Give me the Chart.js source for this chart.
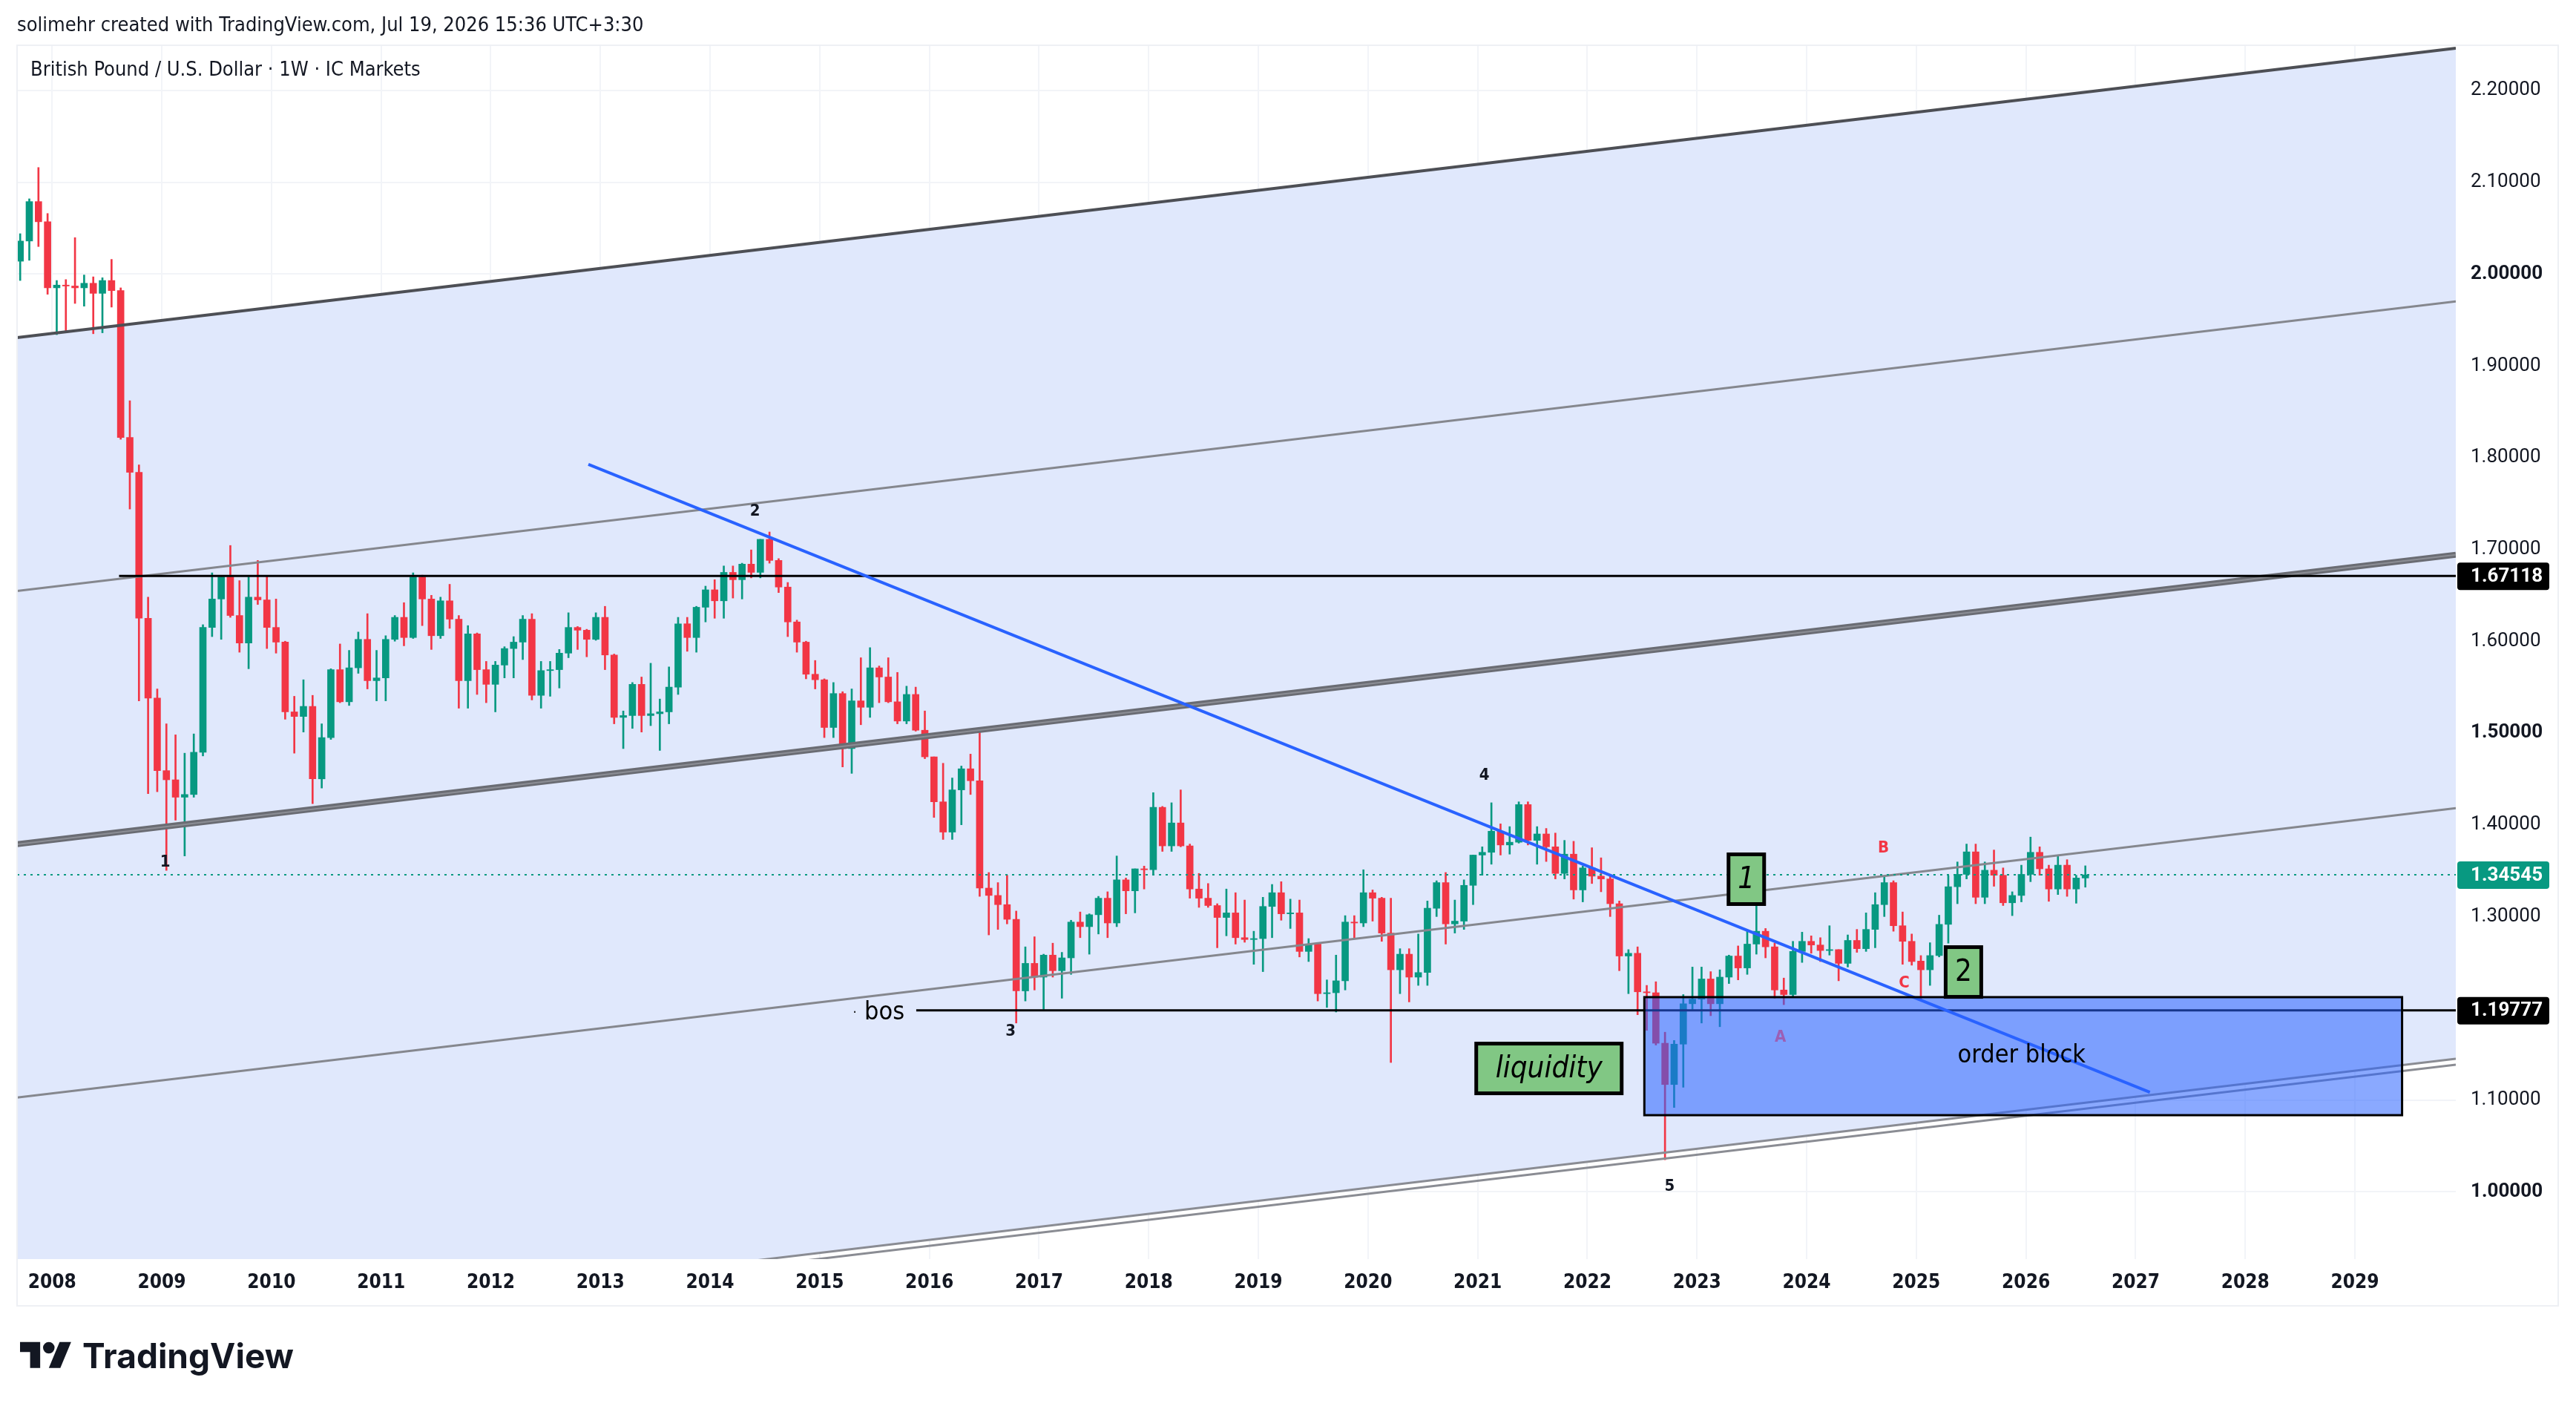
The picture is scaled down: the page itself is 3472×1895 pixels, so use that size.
<!DOCTYPE html>
<html>
<head>
<meta charset="utf-8">
<script src="https://cdn.jsdelivr.net/npm/chart.js@4.4.1/dist/chart.umd.min.js"></script>
<style>
  html, body { margin: 0; padding: 0; background: #ffffff; }
  canvas { display: block; }
</style>
</head>
<body>
<canvas id="gbpChart" width="3472" height="1895"></canvas>
<script>
// GBP/USD monthly candles, Sep 2007 .. Jul 2026
const firstYear = 2007;
const firstMonth = 9;

const opens = [
  2.0140, 2.0360, 2.0790, 2.0570,
  1.9850, 1.9880, 1.9870, 1.9850, 1.9900, 1.9790, 1.9930, 1.9820, 1.8220, 1.7840, 1.6250, 1.5380,
  1.4590, 1.4490, 1.4300, 1.4330, 1.4790, 1.6150, 1.6460, 1.6700, 1.6280, 1.5980, 1.6480, 1.6450,
  1.6150, 1.5990, 1.5230, 1.5180, 1.5290, 1.4500, 1.4950, 1.5690, 1.5340, 1.5710, 1.6020, 1.5570,
  1.5600, 1.6020, 1.6260, 1.6040, 1.6700, 1.6460, 1.6060, 1.6440, 1.6240, 1.5570, 1.6080, 1.5690,
  1.5530, 1.5740, 1.5920, 1.5990, 1.6240, 1.5410, 1.5680, 1.5690, 1.5870, 1.6150, 1.6120, 1.6020,
  1.6260, 1.5850, 1.5170, 1.5190, 1.5530, 1.5190, 1.5210, 1.5230, 1.5500, 1.6190, 1.6040, 1.6370,
  1.6560, 1.6440, 1.6750, 1.6670, 1.6840, 1.6750, 1.7110, 1.6880, 1.6590, 1.6210, 1.5990, 1.5640,
  1.5580, 1.5060, 1.5430, 1.4830, 1.5350, 1.5280, 1.5710, 1.5610, 1.5340, 1.5130, 1.5420, 1.5030,
  1.4740, 1.4250, 1.3920, 1.4380, 1.4610, 1.4480, 1.3310, 1.3230, 1.3130, 1.2970, 1.2190, 1.2490,
  1.2340, 1.2580, 1.2410, 1.2550, 1.2940, 1.2890, 1.3020, 1.3200, 1.2930, 1.3400, 1.3280, 1.3520,
  1.3510, 1.4190, 1.3770, 1.4020, 1.3770, 1.3300, 1.3200, 1.3120, 1.2990, 1.3040, 1.2770, 1.2750,
  1.2760, 1.3110, 1.3260, 1.3030, 1.3040, 1.2620, 1.2700, 1.2160, 1.2170, 1.2300, 1.2940, 1.2930,
  1.3260, 1.3200, 1.2820, 1.2420, 1.2590, 1.2340, 1.2390, 1.3090, 1.3370, 1.2920, 1.2950, 1.3340,
  1.3670, 1.3700, 1.3930, 1.3780, 1.3810, 1.4220, 1.3830, 1.3900, 1.3760, 1.3470, 1.3680, 1.3290,
  1.3530, 1.3440, 1.3410, 1.3140, 1.2570, 1.2600, 1.2180, 1.2170, 1.1620, 1.1170, 1.1610, 1.2050,
  1.2100, 1.2320, 1.2050, 1.2340, 1.2570, 1.2440, 1.2700, 1.2840, 1.2670, 1.2200, 1.2150, 1.2620,
  1.2730, 1.2690, 1.2630, 1.2640, 1.2490, 1.2740, 1.2650, 1.2860, 1.3130, 1.3370, 1.2900, 1.2730,
  1.2515, 1.2420, 1.2575, 1.2915, 1.3325, 1.3460, 1.3705, 1.3210, 1.3505, 1.3450, 1.3150, 1.3230,
  1.3460, 1.3700, 1.3520, 1.3300, 1.3560, 1.3300, 1.3420
];
const highs = [
  2.0440, 2.0820, 2.1161, 2.0660,
  1.9930, 1.9940, 2.0397, 1.9990, 1.9970, 1.9960, 2.0160, 1.9850, 1.8620, 1.7920, 1.6480, 1.5480,
  1.5100, 1.4980, 1.4780, 1.4990, 1.6180, 1.6745, 1.6700, 1.7043, 1.6660, 1.6700, 1.6880, 1.6710,
  1.6460, 1.6000, 1.5400, 1.5580, 1.5410, 1.5100, 1.5700, 1.5970, 1.5900, 1.6100, 1.6300, 1.5900,
  1.6060, 1.6280, 1.6420, 1.6745, 1.6720, 1.6500, 1.6480, 1.6620, 1.6280, 1.6170, 1.6090, 1.5780,
  1.5780, 1.5940, 1.6050, 1.6280, 1.6300, 1.5780, 1.5780, 1.5910, 1.6310, 1.6160, 1.6130, 1.6310,
  1.6380, 1.5860, 1.5240, 1.5550, 1.5610, 1.5760, 1.5370, 1.5720, 1.6260, 1.6260, 1.6380, 1.6600,
  1.6670, 1.6820, 1.6820, 1.6850, 1.6995, 1.7110, 1.7190, 1.6900, 1.6640, 1.6230, 1.6000, 1.5790,
  1.5590, 1.5550, 1.5450, 1.5480, 1.5820, 1.5930, 1.5730, 1.5820, 1.5660, 1.5510, 1.5500, 1.5240,
  1.4740, 1.4670, 1.4510, 1.4640, 1.4770, 1.5020, 1.3480, 1.3370, 1.3450, 1.3060, 1.2670, 1.2780,
  1.2590, 1.2710, 1.2610, 1.2960, 1.3050, 1.3030, 1.3220, 1.3270, 1.3660, 1.3420, 1.3520, 1.3550,
  1.4350, 1.4200, 1.4240, 1.4380, 1.3790, 1.3470, 1.3360, 1.3140, 1.3300, 1.3260, 1.3180, 1.2840,
  1.3210, 1.3350, 1.3380, 1.3190, 1.3180, 1.2760, 1.2710, 1.2310, 1.2580, 1.3010, 1.3010, 1.3510,
  1.3290, 1.3210, 1.3200, 1.2650, 1.2650, 1.2810, 1.3170, 1.3390, 1.3480, 1.3180, 1.3400, 1.3670,
  1.3760, 1.4240, 1.4010, 1.3980, 1.4250, 1.4250, 1.3980, 1.3960, 1.3910, 1.3830, 1.3820, 1.3550,
  1.3750, 1.3640, 1.3440, 1.3170, 1.2640, 1.2670, 1.2250, 1.2290, 1.1740, 1.1650, 1.2150, 1.2450,
  1.2450, 1.2400, 1.2420, 1.2580, 1.2680, 1.2850, 1.3140, 1.2870, 1.2710, 1.2330, 1.2730, 1.2830,
  1.2790, 1.2770, 1.2900, 1.2640, 1.2800, 1.2860, 1.3040, 1.3260, 1.3430, 1.3390, 1.3050, 1.2810,
  1.2575, 1.2715, 1.3015, 1.3445, 1.3595, 1.3790, 1.3790, 1.3595, 1.3725, 1.3530, 1.3270, 1.3560,
  1.3866, 1.3760, 1.3560, 1.3660, 1.3620, 1.3450, 1.3553
];
const lows = [
  1.9930, 2.0150, 2.0300, 1.9780,
  1.9340, 1.9360, 1.9680, 1.9650, 1.9350, 1.9360, 1.9640, 1.8200, 1.7440, 1.5350, 1.4340, 1.4360,
  1.3503, 1.4050, 1.3660, 1.4300, 1.4750, 1.6050, 1.6020, 1.6260, 1.5880, 1.5700, 1.6400, 1.5920,
  1.5870, 1.5150, 1.4780, 1.5010, 1.4230, 1.4400, 1.4930, 1.5330, 1.5300, 1.5650, 1.5480, 1.5350,
  1.5350, 1.6000, 1.5950, 1.6030, 1.6170, 1.5910, 1.6030, 1.6140, 1.5270, 1.5270, 1.5420, 1.5330,
  1.5230, 1.5600, 1.5600, 1.5800, 1.5360, 1.5270, 1.5400, 1.5490, 1.5820, 1.5910, 1.5830, 1.6010,
  1.5690, 1.5100, 1.4830, 1.5050, 1.5010, 1.5080, 1.4810, 1.5100, 1.5420, 1.5890, 1.5880, 1.6210,
  1.6250, 1.6250, 1.6470, 1.6460, 1.6690, 1.6690, 1.6850, 1.6530, 1.6050, 1.5880, 1.5590, 1.5480,
  1.4950, 1.4950, 1.4630, 1.4560, 1.5090, 1.5170, 1.5330, 1.5330, 1.5100, 1.5100, 1.5020, 1.4720,
  1.4080, 1.3840, 1.3840, 1.4000, 1.4330, 1.3220, 1.2800, 1.2860, 1.2920, 1.1840, 1.2080, 1.2200,
  1.1990, 1.2340, 1.2110, 1.2370, 1.2770, 1.2590, 1.2810, 1.2770, 1.2890, 1.3030, 1.3040, 1.3300,
  1.3460, 1.3710, 1.3710, 1.3760, 1.3200, 1.3100, 1.3100, 1.2660, 1.2790, 1.2700, 1.2720, 1.2480,
  1.2400, 1.2770, 1.2960, 1.2870, 1.2560, 1.2510, 1.2080, 1.2010, 1.1960, 1.2200, 1.2770, 1.2890,
  1.2950, 1.2730, 1.1410, 1.2160, 1.2070, 1.2250, 1.2250, 1.3000, 1.2700, 1.2820, 1.2860, 1.3130,
  1.3450, 1.3570, 1.3670, 1.3680, 1.3800, 1.3780, 1.3570, 1.3600, 1.3410, 1.3410, 1.3190, 1.3160,
  1.3360, 1.3270, 1.3000, 1.2410, 1.2160, 1.1930, 1.1760, 1.1600, 1.0350, 1.0920, 1.1140, 1.1990,
  1.1840, 1.1920, 1.1800, 1.2270, 1.2310, 1.2370, 1.2590, 1.2550, 1.2110, 1.2040, 1.2130, 1.2500,
  1.2600, 1.2510, 1.2580, 1.2300, 1.2450, 1.2610, 1.2620, 1.2660, 1.3000, 1.2840, 1.2480, 1.2470,
  1.2100, 1.2250, 1.2560, 1.2710, 1.3140, 1.3410, 1.3140, 1.3140, 1.3330, 1.3120, 1.3010, 1.3160,
  1.3380, 1.3450, 1.3166, 1.3240, 1.3220, 1.3145, 1.3320
];
const closes = [
  2.0360, 2.0790, 2.0570, 1.9850,
  1.9880, 1.9870, 1.9850, 1.9900, 1.9790, 1.9930, 1.9820, 1.8220, 1.7840, 1.6250, 1.5380, 1.4590,
  1.4490, 1.4300, 1.4330, 1.4790, 1.6150, 1.6460, 1.6700, 1.6280, 1.5980, 1.6480, 1.6450, 1.6150,
  1.5990, 1.5230, 1.5180, 1.5290, 1.4500, 1.4950, 1.5690, 1.5340, 1.5710, 1.6020, 1.5570, 1.5600,
  1.6020, 1.6260, 1.6040, 1.6700, 1.6460, 1.6060, 1.6440, 1.6240, 1.5570, 1.6080, 1.5690, 1.5530,
  1.5740, 1.5920, 1.5990, 1.6240, 1.5410, 1.5680, 1.5690, 1.5870, 1.6150, 1.6120, 1.6020, 1.6260,
  1.5850, 1.5170, 1.5190, 1.5530, 1.5190, 1.5210, 1.5230, 1.5500, 1.6190, 1.6040, 1.6370, 1.6560,
  1.6440, 1.6750, 1.6670, 1.6840, 1.6750, 1.7110, 1.6880, 1.6590, 1.6210, 1.5990, 1.5640, 1.5580,
  1.5060, 1.5430, 1.4830, 1.5350, 1.5280, 1.5710, 1.5610, 1.5340, 1.5130, 1.5420, 1.5030, 1.4740,
  1.4250, 1.3920, 1.4380, 1.4610, 1.4480, 1.3310, 1.3230, 1.3130, 1.2970, 1.2190, 1.2490, 1.2340,
  1.2580, 1.2410, 1.2550, 1.2940, 1.2890, 1.3020, 1.3200, 1.2930, 1.3400, 1.3280, 1.3520, 1.3510,
  1.4190, 1.3770, 1.4020, 1.3770, 1.3300, 1.3200, 1.3120, 1.2990, 1.3040, 1.2770, 1.2750, 1.2760,
  1.3110, 1.3260, 1.3030, 1.3040, 1.2620, 1.2700, 1.2160, 1.2170, 1.2300, 1.2940, 1.2930, 1.3260,
  1.3200, 1.2820, 1.2420, 1.2590, 1.2340, 1.2390, 1.3090, 1.3370, 1.2920, 1.2950, 1.3340, 1.3670,
  1.3700, 1.3930, 1.3780, 1.3810, 1.4220, 1.3830, 1.3900, 1.3760, 1.3470, 1.3680, 1.3290, 1.3530,
  1.3440, 1.3410, 1.3140, 1.2570, 1.2600, 1.2180, 1.2170, 1.1620, 1.1170, 1.1610, 1.2050, 1.2100,
  1.2320, 1.2050, 1.2340, 1.2570, 1.2440, 1.2700, 1.2840, 1.2670, 1.2200, 1.2150, 1.2620, 1.2730,
  1.2690, 1.2630, 1.2640, 1.2490, 1.2740, 1.2650, 1.2860, 1.3130, 1.3370, 1.2900, 1.2730, 1.2510,
  1.2420, 1.2575, 1.2915, 1.3325, 1.3460, 1.3705, 1.3210, 1.3505, 1.3450, 1.3150, 1.3230, 1.3460,
  1.3700, 1.3520, 1.3300, 1.3560, 1.3300, 1.3420, 1.34545
];

// axis ranges and ticks
const yearTicks = [2008, 2009, 2010, 2011, 2012, 2013, 2014, 2015, 2016, 2017, 2018,
  2019, 2020, 2021, 2022, 2023, 2024, 2025, 2026, 2027, 2028, 2029];
const priceTicks = [1.0, 1.1, 1.2, 1.3, 1.4, 1.5, 1.6, 1.7, 1.8, 1.9, 2.0, 2.1, 2.2];
const boldPrices = [1.0, 1.5, 2.0];
const xMin = 2007.68, xMax = 2029.92;
const yMin = 0.9268, yMax = 2.2493;

// drawings, in (year, price)
const channelTop = [[2008, 1.9353], [2029, 2.2331]];
const channelStep = 0.276;
const trendLine = [[2012.89, 1.7926], [2027.13, 1.1086]];
const resistance = { price: 1.67118, from: 2008.61 };
const bos = { price: 1.19777, from: 2015.88 };
const lastPrice = 1.34545;
const orderBlock = { x0: 2022.52, x1: 2029.43, top: 1.2122, bottom: 1.0836 };

const waveLabels = [
  { text: "1", x: 2009.03, y: 1.3593, color: "#131722" },
  { text: "2", x: 2014.41, y: 1.7416, color: "#131722" },
  { text: "3", x: 2016.74, y: 1.1749, color: "#131722" },
  { text: "4", x: 2021.06, y: 1.4535, color: "#131722" },
  { text: "5", x: 2022.75, y: 1.0060, color: "#131722" },
  { text: "A", x: 2023.76, y: 1.1685, color: "#9c5fb5" },
  { text: "B", x: 2024.70, y: 1.3746, color: "#f23645" },
  { text: "C", x: 2024.89, y: 1.2275, color: "#f23645" }
];
const boxLabels = [
  { text: "1", x: 2023.45, y: 1.3407, w: 48, h: 67, italic: true },
  { text: "2", x: 2025.43, y: 1.2396, w: 48, h: 67, italic: false },
  { text: "liquidity", x: 2021.65, y: 1.1345, w: 196, h: 67, italic: true }
];

const UP = "#089981", DOWN = "#f23645";
const COND = "'DejaVu Sans Condensed', 'Liberation Sans Narrow', 'DejaVu Sans', sans-serif";
const AXIS_FONT = "Roboto, 'DejaVu Sans', sans-serif";

const candleX = opens.map((_, i) => firstYear + (firstMonth - 1 + i + 0.5) / 12);
const colors = opens.map((o, i) => (closes[i] >= o ? UP : DOWN));

const wickData = candleX.map((x, i) => ({
  x: x,
  y: [Math.min(lows[i], opens[i], closes[i]), Math.max(highs[i], opens[i], closes[i])]
}));
const bodyData = candleX.map((x, i) => ({ x: x, y: [opens[i], closes[i]] }));

function channelAt(level, year) {
  const [[x0, y0], [x1, y1]] = channelTop;
  return y0 + (y1 - y0) * (year - x0) / (x1 - x0) - level * channelStep;
}

function roundRect(ctx, x, y, w, h, r) {
  ctx.beginPath();
  ctx.moveTo(x + r, y);
  ctx.arcTo(x + w, y, x + w, y + h, r);
  ctx.arcTo(x + w, y + h, x, y + h, r);
  ctx.arcTo(x, y + h, x, y, r);
  ctx.arcTo(x, y, x + w, y, r);
  ctx.closePath();
}

const drawings = {
  id: "drawings",
  beforeDatasetsDraw(chart) {
    const { ctx, chartArea: a, scales: { x, y } } = chart;
    const px = (v) => x.getPixelForValue(v);
    const py = (v) => y.getPixelForValue(v);
    ctx.save();
    ctx.beginPath();
    ctx.rect(a.left, a.top, a.width, a.height);
    ctx.clip();
    // channel fill
    ctx.beginPath();
    ctx.moveTo(px(xMin), py(channelAt(0, xMin)));
    ctx.lineTo(px(xMax), py(channelAt(0, xMax)));
    ctx.lineTo(px(xMax), py(channelAt(4, xMax) + 0.003));
    ctx.lineTo(px(xMin), py(channelAt(4, xMin) + 0.003));
    ctx.closePath();
    ctx.fillStyle = "#e0e8fc";
    ctx.fill();
    ctx.restore();
  },
  afterDatasetsDraw(chart) {
    const { ctx, chartArea: a, scales: { x, y } } = chart;
    const px = (v) => x.getPixelForValue(v);
    const py = (v) => y.getPixelForValue(v);
    ctx.save();
    ctx.beginPath();
    ctx.rect(a.left, a.top, a.width, a.height);
    ctx.clip();

    const seg = (x0, y0, x1, y1, color, width, dash) => {
      ctx.beginPath();
      ctx.setLineDash(dash || []);
      ctx.moveTo(px(x0), py(y0));
      ctx.lineTo(px(x1), py(y1));
      ctx.strokeStyle = color;
      ctx.lineWidth = width;
      ctx.stroke();
      ctx.setLineDash([]);
    };
    const chanLine = (level, off, color, width) =>
      seg(xMin, channelAt(level, xMin) + off, xMax, channelAt(level, xMax) + off, color, width);

    // parallel channel levels
    chanLine(0, 0, "#4d4f55", 4);
    chanLine(1, 0, "#85878e", 3);
    chanLine(2, 0, "#6a6c73", 8);
    chanLine(2, 0, "#8c8e95", 2);
    chanLine(3, 0, "#85878e", 3);
    chanLine(4, 0.003, "#8a8c93", 3);
    chanLine(4, -0.0035, "#8a8c93", 3);

    // last price dotted line
    seg(xMin, lastPrice, xMax, lastPrice, UP, 2, [3, 6]);

    // horizontal levels
    seg(resistance.from, resistance.price, xMax, resistance.price, "#000000", 3);
    seg(bos.from, bos.price, xMax, bos.price, "#000000", 3);

    // falling trend line
    seg(trendLine[0][0], trendLine[0][1], trendLine[1][0], trendLine[1][1], "#2962ff", 4);

    // order block
    const bx0 = px(orderBlock.x0), bx1 = px(orderBlock.x1);
    const by0 = py(orderBlock.top), by1 = py(orderBlock.bottom);
    ctx.fillStyle = "rgba(41, 98, 255, 0.55)";
    ctx.fillRect(bx0, by0, bx1 - bx0, by1 - by0);
    ctx.strokeStyle = "#000000";
    ctx.lineWidth = 3;
    ctx.strokeRect(bx0, by0, bx1 - bx0, by1 - by0);
    ctx.fillStyle = "#000000";
    ctx.font = "34px " + COND;
    ctx.textAlign = "center";
    ctx.textBaseline = "middle";
    ctx.fillText("order block", px(2025.96), py(1.1483));

    // bos text
    ctx.font = "34px " + COND;
    ctx.textAlign = "center";
    ctx.fillText("bos", px(2015.59), py(1.1951));
    ctx.font = "18px " + COND;
    ctx.fillText("\u00b7", px(2015.32), py(1.1951));

    // wave labels
    waveLabels.forEach((l) => {
      ctx.font = "bold 22px " + COND;
      ctx.fillStyle = l.color;
      ctx.textAlign = "center";
      ctx.textBaseline = "middle";
      ctx.fillText(l.text, px(l.x), py(l.y));
    });

    // green boxed labels
    boxLabels.forEach((l) => {
      const cx = px(l.x), cy = py(l.y);
      ctx.fillStyle = "#81c784";
      ctx.fillRect(cx - l.w / 2, cy - l.h / 2, l.w, l.h);
      ctx.strokeStyle = "#000000";
      ctx.lineWidth = 5;
      ctx.strokeRect(cx - l.w / 2, cy - l.h / 2, l.w, l.h);
      ctx.fillStyle = "#000000";
      ctx.font = (l.italic ? "italic " : "") + "40px " + COND;
      ctx.textAlign = "center";
      ctx.textBaseline = "middle";
      ctx.fillText(l.text, cx, cy + 2);
    });
    ctx.restore();
  },
  afterDraw(chart) {
    const { ctx, chartArea: a, scales: { y } } = chart;
    ctx.save();
    // pane frame
    ctx.strokeStyle = "#eef0f4";
    ctx.lineWidth = 2;
    ctx.strokeRect(23, 61, 3448 - 23, 1760 - 61);

    // price tags on the axis
    const tag = (price, bg) => {
      const cy = y.getPixelForValue(price);
      ctx.fillStyle = bg;
      roundRect(ctx, a.right + 2, cy - 18, 124, 37, 4);
      ctx.fill();
      ctx.fillStyle = "#ffffff";
      ctx.font = "bold 26px " + AXIS_FONT;
      ctx.textAlign = "left";
      ctx.textBaseline = "middle";
      ctx.fillText(price.toFixed(5), a.right + 20, cy + 1);
    };
    tag(resistance.price, "#000000");
    tag(lastPrice, UP);
    tag(bos.price, "#000000");

    // header and title
    ctx.fillStyle = "#131722";
    ctx.textAlign = "left";
    ctx.textBaseline = "middle";
    ctx.font = "27px " + COND;
    ctx.fillText("solimehr created with TradingView.com, Jul 19, 2026 15:36 UTC+3:30", 23, 35);
    ctx.font = "27px " + COND;
    ctx.fillText("British Pound / U.S. Dollar \u00b7 1W \u00b7 IC Markets", 41, 95);

    // TradingView logo
    const s = 1.94, ox = 27, oy = 1801;
    ctx.fillStyle = "#131722";
    ctx.beginPath();
    ctx.moveTo(ox + 0 * s, oy + 4 * s);
    ctx.lineTo(ox + 14 * s, oy + 4 * s);
    ctx.lineTo(ox + 14 * s, oy + 22 * s);
    ctx.lineTo(ox + 7 * s, oy + 22 * s);
    ctx.lineTo(ox + 7 * s, oy + 11 * s);
    ctx.lineTo(ox + 0 * s, oy + 11 * s);
    ctx.closePath();
    ctx.fill();
    ctx.beginPath();
    ctx.arc(ox + 20 * s, oy + 8 * s, 4 * s, 0, Math.PI * 2);
    ctx.fill();
    ctx.beginPath();
    ctx.moveTo(ox + 20 * s, oy + 22 * s);
    ctx.lineTo(ox + 27.5 * s, oy + 4 * s);
    ctx.lineTo(ox + 35.5 * s, oy + 4 * s);
    ctx.lineTo(ox + 28 * s, oy + 22 * s);
    ctx.closePath();
    ctx.fill();
    ctx.font = "bold 46px Inter, 'DejaVu Sans', sans-serif";
    ctx.textBaseline = "alphabetic";
    ctx.fillText("TradingView", 111, 1844);
    ctx.restore();
  }
};

const ctx = document.getElementById("gbpChart").getContext("2d");
const chart = new Chart(ctx, {
  type: "bar",
  data: {
    datasets: [
      {
        label: "wicks",
        data: wickData,
        backgroundColor: colors,
        barThickness: 2,
        grouped: false,
        borderWidth: 0
      },
      {
        label: "bodies",
        data: bodyData,
        backgroundColor: colors,
        barThickness: 9,
        grouped: false,
        borderWidth: 0
      }
    ]
  },
  options: {
    responsive: false,
    animation: false,
    devicePixelRatio: 1,
    layout: { padding: { left: 23, top: 61, right: 24, bottom: 135 } },
    plugins: {
      legend: { display: false },
      tooltip: { enabled: false }
    },
    scales: {
      x: {
        type: "linear",
        position: "bottom",
        min: xMin,
        max: xMax,
        offset: false,
        grid: { color: "#f2f4f8", lineWidth: 2, drawTicks: false, offset: false },
        border: { display: false },
        afterBuildTicks: (axis) => { axis.ticks = yearTicks.map((v) => ({ value: v })); },
        afterFit: (axis) => { axis.height = 63; },
        ticks: {
          padding: 17,
          color: "#131722",
          maxRotation: 0,
          autoSkip: false,
          font: { family: COND, size: 26, weight: "bold" },
          callback: (v) => String(v)
        }
      },
      y: {
        type: "linear",
        position: "right",
        min: yMin,
        max: yMax,
        grid: { color: "#f2f4f8", lineWidth: 2, drawTicks: false },
        border: { display: false },
        afterBuildTicks: (axis) => { axis.ticks = priceTicks.map((v) => ({ value: v })); },
        afterFit: (axis) => { axis.width = 138; },
        ticks: {
          padding: 20,
          color: "#131722",
          autoSkip: false,
          font: (c) => ({
            family: AXIS_FONT,
            size: 26,
            weight: c.tick && boldPrices.some((b) => Math.abs(b - c.tick.value) < 1e-6) ? "bold" : "normal"
          }),
          callback: (v) => Number(v).toFixed(5)
        }
      }
    }
  },
  plugins: [drawings]
});
</script>
</body>
</html>
